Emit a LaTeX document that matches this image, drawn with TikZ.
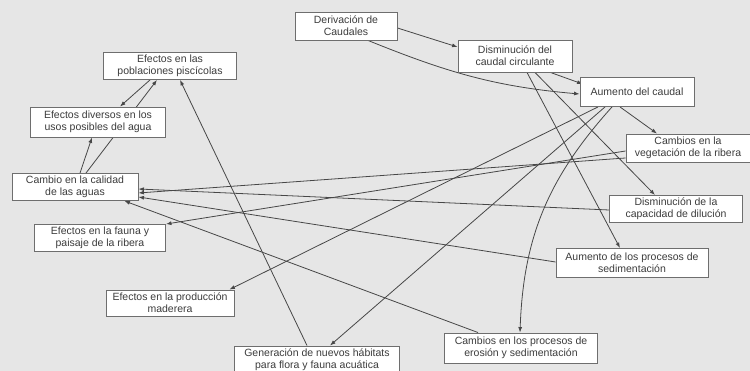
\documentclass[tikz,border=0pt]{standalone}
\usepackage{fontspec}
\setmainfont{Liberation Sans}
\usetikzlibrary{arrows.meta,calc}
\pgfdeclarelayer{bg}
\pgfdeclarelayer{edges}
\pgfsetlayers{bg,edges,main}
\definecolor{bgc}{HTML}{E6E6E6}
\definecolor{boxline}{HTML}{6E6E6E}
\definecolor{txt}{HTML}{3C3C3C}
\definecolor{edgec}{HTML}{474747}
\begin{document}
\begin{tikzpicture}[x=1pt,y=1pt,
  box/.style={draw=boxline, line width=0.9pt, fill=white, align=center, inner sep=0pt,
    text=txt, font=\fontsize{10.5}{12}\selectfont},
  conn/.style={draw=edgec, line width=0.8pt, -{Latex[length=5.5pt,width=4pt]}}]
\useasboundingbox (0,0) rectangle (750,371);
\begin{pgfonlayer}{bg}
  \fill[bgc] (0,0) rectangle (750,371);
\end{pgfonlayer}

\node[box, minimum width=102, minimum height=28] (der) at (346,345) {Derivación de\\Caudales};
\node[box, minimum width=114, minimum height=32] (dis) at (515,315) {Disminución del\\caudal circulante};
\node[box, minimum width=114, minimum height=29] (aum) at (637,279) {Aumento del caudal};
\node[box, minimum width=124, minimum height=28] (veg) at (688,223) {Cambios en la\\vegetación de la ribera};
\node[box, minimum width=133, minimum height=27] (cap) at (676,162) {Disminución de la\\capacidad de dilución};
\node[box, minimum width=152, minimum height=29] (sed) at (632,108) {Aumento de los procesos de\\sedimentación};
\node[box, minimum width=153, minimum height=30] (ero) at (521,23) {Cambios en los procesos de\\erosión y sedimentación};
\node[box, minimum width=165, minimum height=28] (gen) at (317,11) {Generación de nuevos hábitats\\para flora y fauna acuática};
\node[box, minimum width=128, minimum height=26] (pro) at (170,68) {Efectos en la producción\\maderera};
\node[box, minimum width=131, minimum height=27] (fau) at (100,133) {Efectos en la fauna y\\paisaje de la ribera};
\node[box, minimum width=126, minimum height=27] (cal) at (75,184) {Cambio en la calidad\\de las aguas};
\node[box, minimum width=135, minimum height=30] (uso) at (98,249) {Efectos diversos en los\\usos posibles del agua};
\node[box, minimum width=133, minimum height=27] (pob) at (170,305) {Efectos en las\\poblaciones piscícolas};

\begin{pgfonlayer}{edges}
\draw[conn] ($(der.east)+(0,-2)$) -- ($(dis.west)+(0,9)$);
\draw[conn] ($(der.south)+(22,0)$) to[out=-22,in=175] ($(aum.west)+(0,-2)$);
\draw[conn] ($(dis.south east)+(-22,0)$) -- ($(aum.west)+(3,8)$);
\draw[conn] ($(aum.south)+(-17,0)$) -- ($(veg.north)+(-31,0)$);
\draw[conn] ($(dis.south)+(20,0)$) -- ($(cap.north)+(-21,0)$);
\draw[conn] ($(dis.south)+(12,0)$) -- ($(sed.north)+(-12,0)$);
\draw[conn] ($(aum.south)+(-25,0)$) to[out=228,in=88] ($(ero.north)+(-1,0)$);
\draw[conn] ($(aum.south)+(-32,0)$) -- ($(gen.north)+(13,0)$);
\draw[conn] ($(aum.south)+(-39,0)$) -- ($(pro.north east)+(-5,0)$);
\draw[conn] ($(veg.west)+(0,-10)$) -- ($(cal.east)+(0,-6)$);
\draw[conn] ($(veg.west)+(0,-3)$) -- (fau.north east);
\draw[conn] ($(cap.west)+(0,-1)$) -- ($(cal.east)+(0,-2)$);
\draw[conn] ($(sed.west)+(0,1)$) -- ($(cal.east)+(0,-10)$);
\draw[conn] ($(ero.north west)+(34,0)$) -- ($(cal.south east)+(-14,0)$);
\draw[conn] ($(gen.north)+(-10,0)$) -- ($(pob.south)+(10,0)$);
\draw[conn] ($(cal.north)+(5,0)$) -- ($(uso.south)+(-6,0)$);
\draw[conn] ($(cal.north)+(11,0)$) -- ($(pob.south)+(-13,0)$);
\draw[conn] ($(pob.south)+(-20,0)$) -- ($(uso.north)+(22,0)$);
\end{pgfonlayer}
\end{tikzpicture}
\end{document}
